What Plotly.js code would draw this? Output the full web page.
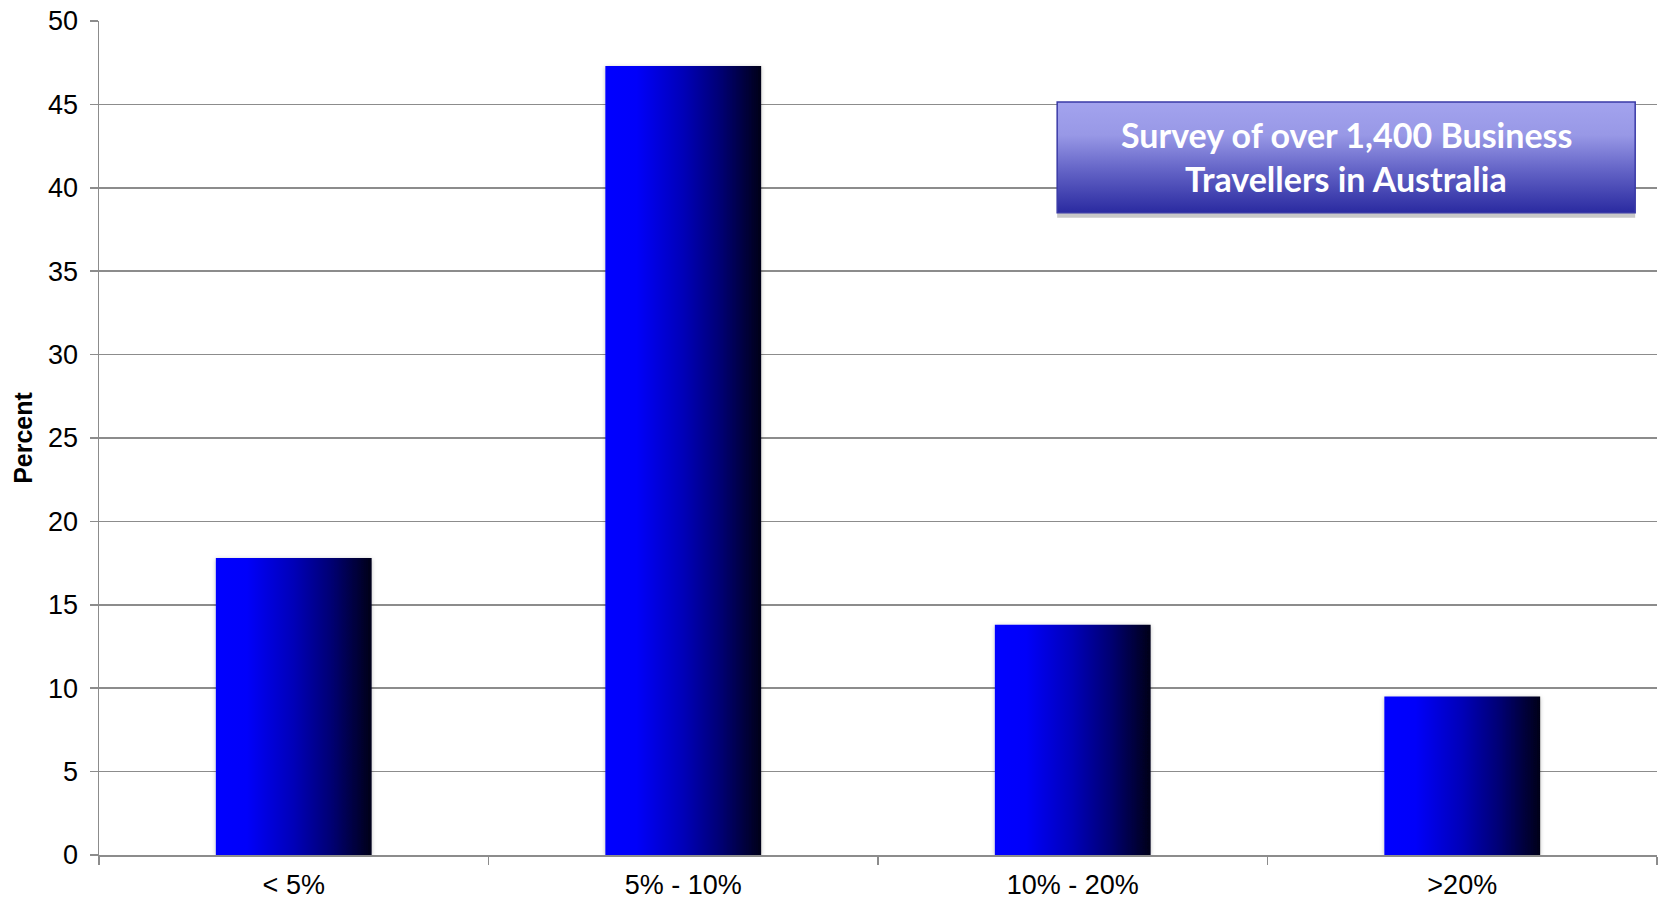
<!DOCTYPE html>
<html>
<head>
<meta charset="utf-8">
<script src="https://cdn.plot.ly/plotly-3.0.1.min.js"></script>
<style>
html,body{margin:0;padding:0;background:#fff;}
#chart{width:1660px;height:900px;}
</style>
</head>
<body>
<div id="chart"></div>
<script>
const categories = ["< 5%", "5% - 10%", "10% - 20%", ">20%"];
const percentValues = [17.8, 47.3, 13.8, 9.5];
const yTickValues = [0, 5, 10, 15, 20, 25, 30, 35, 40, 45, 50];
const yAxisTitle = "Percent";
const noteLines = ["Survey of over 1,400 Business", "Travellers in Australia"];

const gridColor = "#8c8c8c";

const trace = {
  type: "bar",
  x: categories,
  y: percentValues,
  width: 0.4,
  marker: { color: "#0000ff", line: { width: 0 } },
  hoverinfo: "x+y"
};

const layout = {
  width: 1660,
  height: 900,
  margin: { l: 99, r: 3, t: 21, b: 45 },
  paper_bgcolor: "#ffffff",
  plot_bgcolor: "#ffffff",
  showlegend: false,
  font: { family: "Liberation Sans, Arial, sans-serif", color: "#000000", size: 27 },
  xaxis: {
    type: "category",
    tickson: "boundaries",
    ticks: "outside",
    ticklen: 8,
    tickwidth: 1.5,
    tickcolor: gridColor,
    showline: true,
    linecolor: gridColor,
    linewidth: 1.5,
    showgrid: false,
    ticklabelstandoff: 5,
    tickfont: { size: 27, family: "Liberation Sans, Arial, sans-serif", color: "#000" },
    fixedrange: true
  },
  yaxis: {
    range: [0, 50],
    tickvals: yTickValues,
    ticks: "outside",
    ticklen: 8,
    tickwidth: 1.5,
    tickcolor: gridColor,
    showline: true,
    linecolor: gridColor,
    linewidth: 1.5,
    showgrid: true,
    gridcolor: gridColor,
    gridwidth: 1.5,
    zeroline: false,
    ticklabelstandoff: 6,
    tickfont: { size: 27, family: "Liberation Sans, Arial, sans-serif", color: "#000" },
    title: { text: "<b>" + yAxisTitle + "</b>", font: { size: 25, family: "Liberation Sans, Arial, sans-serif", color: "#000" }, standoff: 8 },
    fixedrange: true
  },
  shapes: [
    { type: "rect", xref: "paper", yref: "paper", x0: 0.615, x1: 0.986, y0: 0.764, y1: 0.770,
      fillcolor: "#c8c8c8", line: { width: 0 }, layer: "above" },
    { type: "rect", xref: "paper", yref: "paper", x0: 0.615, x1: 0.986, y0: 0.770, y1: 0.903,
      fillcolor: "#6a6ad0", line: { color: "#3a3aa6", width: 1.5 }, layer: "above", name: "notebox" }
  ],
  annotations: [
    { xref: "paper", yref: "paper", x: 0.8005, y: 0.864, text: "<b>" + noteLines[0] + "</b>",
      showarrow: false, xanchor: "center", yanchor: "middle",
      font: { family: "Lato, Open Sans, sans-serif", size: 34, color: "#ffffff" } },
    { xref: "paper", yref: "paper", x: 0.8005, y: 0.811, text: "<b>" + noteLines[1] + "</b>",
      showarrow: false, xanchor: "center", yanchor: "middle",
      font: { family: "Lato, Open Sans, sans-serif", size: 34, color: "#ffffff" } }
  ]
};

Plotly.newPlot("chart", [trace], layout, { displayModeBar: false, staticPlot: true }).then(function (gd) {
  const svg = gd.querySelector("svg.main-svg");
  const ns = "http://www.w3.org/2000/svg";
  let defs = svg.querySelector("defs");
  if (!defs) { defs = document.createElementNS(ns, "defs"); svg.insertBefore(defs, svg.firstChild); }

  function mkGrad(id, vertical, stops) {
    const g = document.createElementNS(ns, "linearGradient");
    g.setAttribute("id", id);
    g.setAttribute("x1", "0"); g.setAttribute("y1", "0");
    g.setAttribute("x2", vertical ? "0" : "1"); g.setAttribute("y2", vertical ? "1" : "0");
    stops.forEach(function (s) {
      const st = document.createElementNS(ns, "stop");
      st.setAttribute("offset", s[0]);
      st.setAttribute("stop-color", s[1]);
      g.appendChild(st);
    });
    defs.appendChild(g);
  }
  mkGrad("barGrad", false, [["0", "#0000ff"], ["0.2", "#0000fa"], ["0.5", "#0000b8"], ["0.75", "#000070"], ["1", "#000018"]]);
  mkGrad("boxGrad", true, [["0", "#a3a3ee"], ["0.3", "#9898e6"], ["0.6", "#6666c8"], ["1", "#2a2aa0"]]);

  const f = document.createElementNS(ns, "filter");
  f.setAttribute("id", "barShadow");
  f.setAttribute("x", "-10%"); f.setAttribute("y", "-10%");
  f.setAttribute("width", "120%"); f.setAttribute("height", "120%");
  const ds = document.createElementNS(ns, "feDropShadow");
  ds.setAttribute("dx", "0"); ds.setAttribute("dy", "1");
  ds.setAttribute("stdDeviation", "2");
  ds.setAttribute("flood-color", "#000");
  ds.setAttribute("flood-opacity", "0.25");
  f.appendChild(ds);
  defs.appendChild(f);

  gd.querySelectorAll(".bars .point path").forEach(function (p) {
    p.style.fill = "url(#barGrad)";
    p.setAttribute("filter", "url(#barShadow)");
  });
  const shapePaths = gd.querySelectorAll(".layer-above .shapelayer path");
  if (shapePaths.length > 1) {
    shapePaths[1].style.fill = "url(#boxGrad)";
    shapePaths[1].style.fillOpacity = "1";
  }
});
</script>
</body>
</html>
